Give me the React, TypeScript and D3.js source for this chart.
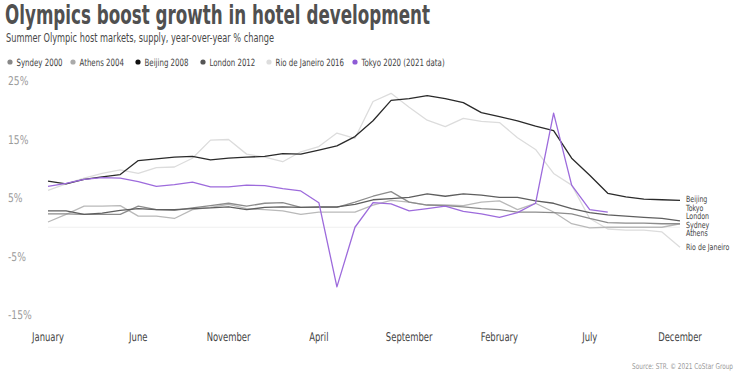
import React from "react";
import * as d3 from "d3";

const xTickLabels = ["January", "June", "November", "April", "September", "February", "July", "December"];
const xTickIndex = [0, 5, 10, 15, 20, 25, 30, 35];
const yTicks = [25, 15, 5, -5, -15];

const seriesNames = ["Syndey 2000", "Athens 2004", "Beijing 2008", "London 2012", "Rio de Janeiro 2016", "Tokyo 2020 (2021 data)"];
const endLabels = ["Sydney", "Athens", "Beijing", "London", "Rio de Janeiro", "Tokyo"];
const colors = ["#8c8c8c", "#b9b9b9", "#2a2a2a", "#5e5e5e", "#dcdcdc", "#9d6bdc"];
const legendMarkerColors = ["#888888", "#aaaaaa", "#111111", "#555555", "#dddddd", "#8e5bd6"];

const sydney = [2.3, 2.3, 2.2, 2.2, 2.2, 3.6, 3.0, 2.9, 3.3, 3.7, 4.1, 3.6, 4.1, 4.2, 3.4, 3.4, 3.4, 4.3, 5.3, 6.1, 4.3, 3.8, 3.7, 3.5, 3.2, 3.0, 2.6, 2.6, 2.5, 2.3, 1.5, 0.8, 0.7, 0.7, 0.6, 0.6];
const athens = [0.9, 2.2, 3.6, 3.6, 3.7, 1.9, 1.9, 1.5, 3.0, 3.4, 3.9, 3.2, 3.0, 2.8, 2.2, 2.6, 2.6, 2.6, 3.8, 4.6, 4.3, 3.8, 3.8, 3.7, 4.3, 4.5, 3.0, 4.1, 2.6, 0.6, -0.1, 0.0, 0.0, 0.0, 0.0, 0.6];
const beijing = [7.9, 7.4, 8.2, 8.6, 9.0, 11.4, 11.7, 12.0, 12.1, 11.5, 11.8, 12.0, 12.1, 12.6, 12.5, 13.2, 13.9, 15.5, 18.2, 21.7, 22.0, 22.5, 22.0, 21.3, 19.6, 18.9, 18.2, 17.3, 16.5, 11.8, 8.9, 5.8, 5.2, 4.8, 4.7, 4.6];
const london = [2.8, 2.8, 2.2, 2.4, 2.9, 3.2, 3.0, 3.0, 3.2, 3.3, 3.5, 3.0, 3.4, 3.5, 3.4, 3.5, 3.5, 3.9, 4.7, 4.9, 5.1, 5.7, 5.3, 5.7, 5.5, 5.1, 5.1, 4.5, 4.1, 3.2, 2.5, 2.1, 1.9, 1.7, 1.5, 1.1];
const rio = [6.3, 7.4, 8.4, 9.2, 9.8, 9.2, 10.2, 10.3, 11.8, 14.9, 15.0, 12.5, 12.0, 11.2, 12.9, 13.8, 16.1, 15.2, 21.5, 22.9, 20.5, 18.3, 17.2, 18.6, 18.1, 17.9, 15.3, 13.3, 9.2, 7.2, 1.5, -0.3, -0.5, -0.5, -0.8, -3.4];
const tokyo = [7.0, 7.5, 8.2, 8.5, 8.4, 7.8, 7.0, 7.3, 7.7, 6.9, 6.9, 7.2, 7.1, 6.6, 6.2, 4.2, -10.2, 0.0, 4.2, 4.0, 2.8, 3.2, 3.6, 2.7, 2.3, 1.7, 2.5, 4.1, 19.5, 7.2, 3.0, 2.6];

const allSeries = [sydney, athens, beijing, london, rio, tokyo];
const drawOrder = [4, 1, 0, 3, 2, 5];

const FONT = "'Liberation Sans Narrow', 'DejaVu Sans Condensed', 'Roboto', sans-serif";

function Narrow({ x, y, sx, children, ...rest }: any) {
  return (
    <g transform={`translate(${x},${y}) scale(${sx},1)`}>
      <text x={0} y={0} textRendering="geometricPrecision" {...rest}>
        {children}
      </text>
    </g>
  );
}

export default function App() {
  const W = 738, H = 377;
  const x = d3.scaleLinear().domain([0, 35]).range([48, 680]);
  const y = d3.scaleLinear().domain([-15, 25]).range([315, 81]);
  const line = d3.line<number>().x((_, i) => x(i)).y((d) => y(d));

  const items = allSeries.map((s, k) => ({ k, y: y(s[s.length - 1]) }));
  items.sort((a, b) => a.y - b.y);
  const gap = 8.6;
  for (let it = 0; it < 200; it++) {
    for (let j = 0; j < items.length - 1; j++) {
      const d = items[j + 1].y - items[j].y;
      if (d < gap) {
        const s = (gap - d) / 2;
        items[j].y -= s;
        items[j + 1].y += s;
      }
    }
  }

  const legendX = [10, 73, 138, 203, 269, 355];

  return (
    <svg width={W} height={H} style={{ position: "absolute", left: 0, top: 0, background: "#fff" }} fontFamily={FONT}>
      <text x={5} y={24} fontSize={27} fill="#505050" fontWeight={600} textLength={425} lengthAdjust="spacingAndGlyphs">
        Olympics boost growth in hotel development
      </text>
      <text x={6} y={42} fontSize={12} fill="#484848" textLength={268} lengthAdjust="spacingAndGlyphs">
        Summer Olympic host markets, supply, year-over-year % change
      </text>
      {seriesNames.map((n, k) => (
        <g key={n}>
          <circle cx={legendX[k]} cy={62} r={2.6} fill={legendMarkerColors[k]} />
          <Narrow x={legendX[k] + 6.5} y={65.5} sx={0.78} fontSize={10} fill="#444">
            {n}
          </Narrow>
        </g>
      ))}
      {yTicks.map((t) => (
        <Narrow key={t} x={8} y={y(t)} sx={0.85} dy="0.35em" fontSize={12} fill="#9a9a9a">
          {t}%
        </Narrow>
      ))}
      <line x1={x(0)} x2={x(35)} y1={y(0)} y2={y(0)} stroke="#efefef" strokeWidth={1} />
      {drawOrder.map((k) => (
        <path key={k} d={line(allSeries[k]) || ""} fill="none" stroke={colors[k]} strokeWidth={1.3} strokeLinejoin="round" />
      ))}
      {items.map((it) => (
        <Narrow key={it.k} x={686} y={it.y} sx={0.82} dy="0.35em" fontSize={8.5} fill="#444">
          {endLabels[it.k]}
        </Narrow>
      ))}
      {xTickIndex.map((ti, j) => (
        <Narrow key={ti} x={x(ti)} y={341} sx={0.78} textAnchor="middle" fontSize={12} fill="#444">
          {xTickLabels[j]}
        </Narrow>
      ))}
      <Narrow x={733} y={369} sx={0.8} textAnchor="end" fontSize={8} fill="#999">
        Source: STR. © 2021 CoStar Group
      </Narrow>
    </svg>
  );
}
